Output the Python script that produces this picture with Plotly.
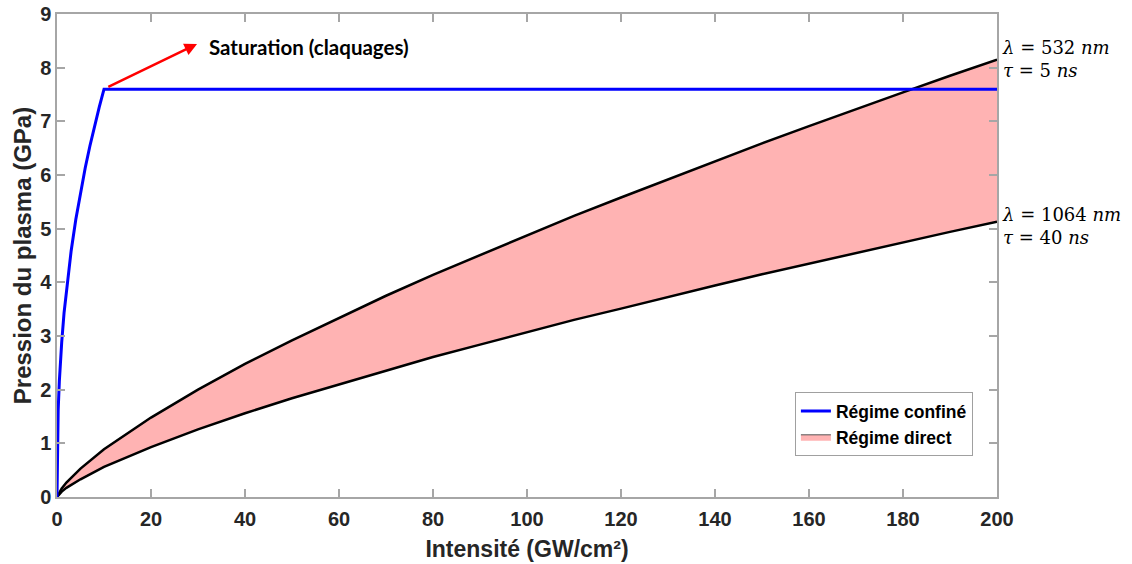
import plotly.graph_objects as go

# Régime confiné (blue)
conf_x = [0, 0.1, 0.25, 0.5, 0.75, 1, 1.5, 2, 2.5, 3, 4, 5, 6, 7, 8, 9, 10, 200]
conf_y = [0, 1.10, 1.62, 2.16, 2.56, 2.88, 3.43, 3.85, 4.25, 4.58, 5.17, 5.68, 6.13,
          6.54, 6.92, 7.27, 7.6, 7.6]

# Régime direct (black bounds)
dir_x = [0, 1, 2, 5, 10, 20, 30, 40, 50, 60, 70, 80, 90, 100, 110, 120, 130, 140,
         150, 160, 170, 180, 190, 200]
upper_y = [0, 0.16, 0.27, 0.53, 0.89, 1.48, 2.00, 2.48, 2.92, 3.34, 3.75, 4.14, 4.51,
           4.88, 5.24, 5.58, 5.92, 6.26, 6.59, 6.91, 7.23, 7.54, 7.85, 8.15]
lower_y = [0, 0.10, 0.17, 0.33, 0.56, 0.93, 1.26, 1.56, 1.84, 2.10, 2.36, 2.61, 2.84,
           3.07, 3.30, 3.51, 3.73, 3.94, 4.15, 4.35, 4.55, 4.75, 4.94, 5.13]

x_ticks = [0, 20, 40, 60, 80, 100, 120, 140, 160, 180, 200]
y_ticks = [0, 1, 2, 3, 4, 5, 6, 7, 8, 9]

FILL = "#ffb3b3"
AX = "#a6a6a6"
TXT = "#262626"

fig = go.Figure()
fig.add_trace(go.Scatter(x=dir_x, y=lower_y, mode="lines",
                         line=dict(color="black", width=2.5), showlegend=False,
                         hoverinfo="skip"))
fig.add_trace(go.Scatter(x=dir_x, y=upper_y, mode="lines", fill="tonexty",
                         fillcolor=FILL, line=dict(color="black", width=2.5),
                         showlegend=False))
fig.add_trace(go.Scatter(x=conf_x, y=conf_y, mode="lines", name="<b>Régime confiné</b>",
                         line=dict(color="#0000ff", width=3)))
# legend-only entry for the filled region
fig.add_trace(go.Scatter(x=[None], y=[None], mode="lines", name="<b>Régime direct</b>",
                         fill="toself", fillcolor=FILL,
                         line=dict(color="#555555", width=1)))

fig.add_annotation(x=29.8, y=8.44, ax=10.6, ay=7.63, xref="x", yref="y",
                   axref="x", ayref="y", text="", showarrow=True,
                   arrowhead=2, arrowsize=1, arrowwidth=2.5, arrowcolor="#ff0000")
fig.add_annotation(x=31.9, y=8.38, xref="x", yref="y", text="<b>Saturation (claquages)</b>",
                   showarrow=False, xanchor="left", yanchor="middle",
                   font=dict(family="Lato", size=20.5, color="black"))
fig.add_annotation(x=1.003, y=8.17, xref="paper", yref="y",
                   text="<i>λ</i> = 532 <i>nm</i><br><i>τ</i> = 5 <i>ns</i>",
                   showarrow=False, xanchor="left", yanchor="middle", align="left",
                   font=dict(family="DejaVu Serif", size=18, color="black"))
fig.add_annotation(x=1.003, y=5.05, xref="paper", yref="y",
                   text="<i>λ</i> = 1064 <i>nm</i><br><i>τ</i> = 40 <i>ns</i>",
                   showarrow=False, xanchor="left", yanchor="middle", align="left",
                   font=dict(family="DejaVu Serif", size=18, color="black"))

axis_common = dict(showgrid=False, zeroline=False, showline=True, linecolor=AX,
                   linewidth=1.5, mirror="ticks", ticks="inside", ticklen=8,
                   tickcolor=AX, tickwidth=1.5, automargin=False,
                   ticklabeloverflow="allow",
                   tickfont=dict(family="Liberation Sans", size=20, color=TXT))

fig.update_xaxes(range=[0, 200], tickvals=x_ticks, ticktext=[f"<b>{v}</b>" for v in x_ticks],
                 ticklabelstandoff=3,
                 title=dict(text="<b>Intensité (GW/cm²)</b>", standoff=12,
                            font=dict(family="Liberation Sans", size=23, color=TXT)),
                 **axis_common)
fig.update_yaxes(range=[0, 9], tickvals=y_ticks, ticktext=[f"<b>{v}</b>" for v in y_ticks],
                 title=dict(text="<b>Pression du plasma (GPa)</b>", standoff=2,
                            font=dict(family="Liberation Sans", size=24, color=TXT)),
                 **axis_common)

fig.update_layout(
    width=1132, height=564,
    margin=dict(l=57, r=135, t=14, b=67, autoexpand=False),
    plot_bgcolor="white", paper_bgcolor="white",
    legend=dict(x=0.785, y=0.217, xanchor="left", yanchor="top",
                traceorder="normal",
                bgcolor="white", bordercolor="#a0a0a0", borderwidth=1,
                font=dict(family="Liberation Sans", size=17.5, color="black"),
                tracegroupgap=0, itemwidth=30),
)

fig.write_html("out.html", config={"displayModeBar": False},
               post_script="document.body.style.margin='0px';")
